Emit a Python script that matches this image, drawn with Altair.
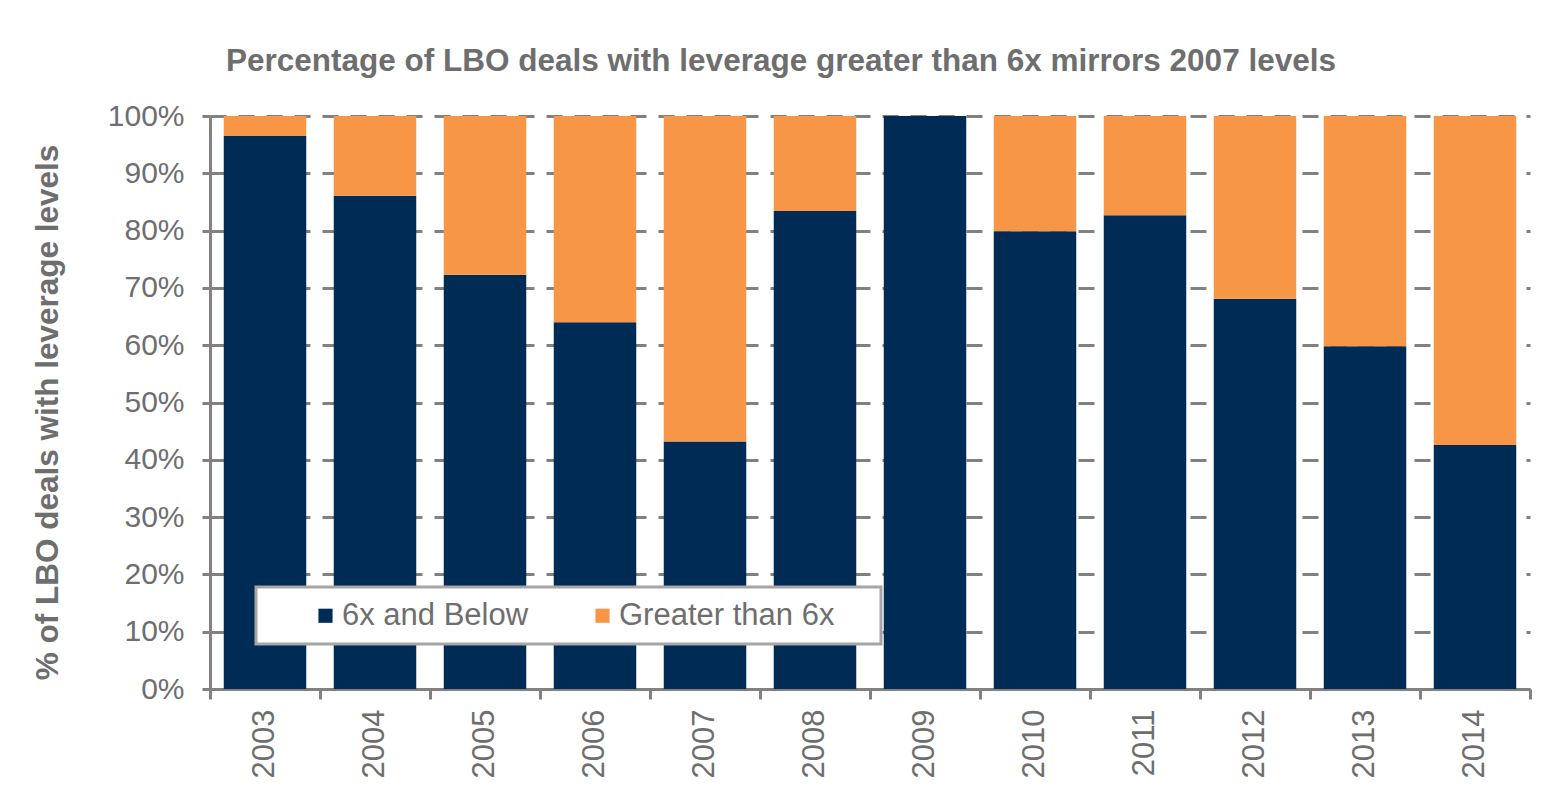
import altair as alt
import pandas as pd

years = ["2003", "2004", "2005", "2006", "2007", "2008", "2009", "2010", "2011", "2012", "2013", "2014"]
below = [96.5, 86.1, 72.3, 64.0, 43.2, 83.4, 100.0, 79.9, 82.7, 68.1, 59.8, 42.6]
greater = [3.5, 13.9, 27.7, 36.0, 56.8, 16.6, 0.0, 20.1, 17.3, 31.9, 40.2, 57.4]
series = ["6x and Below", "Greater than 6x"]
colors = ["#002B55", "#F79646"]

rows = []
for i, y in enumerate(years):
    rows.append({"year": y, "series": series[0], "value": below[i] / 100, "ord": 0})
    rows.append({"year": y, "series": series[1], "value": greater[i] / 100, "ord": 1})
df = pd.DataFrame(rows)

TXT = "#6E6E6E"
AX = "#818181"
FONT = "Liberation Sans"

chart = alt.Chart(df).mark_bar(width=alt.RelativeBandSize(0.75)).encode(
    x=alt.X("year:N", sort=years, title=None,
            scale=alt.Scale(paddingInner=0, paddingOuter=0),
            axis=alt.Axis(labelAngle=-90, labelAlign="right", labelBaseline="middle",
                          labelFontSize=31, labelColor=TXT, labelFont=FONT, labelPadding=10,
                          domainColor=AX, domainWidth=3, tickColor=AX, tickWidth=3, tickSize=10,
                          bandPosition=1, tickExtra=True, grid=False)),
    y=alt.Y("value:Q", stack="zero", title="% of LBO deals with leverage levels",
            scale=alt.Scale(domain=[0, 1], nice=False),
            axis=alt.Axis(format=".0%", values=[i / 10 for i in range(11)],
                          labelFontSize=30, labelColor=TXT, labelFont=FONT, labelPadding=18,
                          domainColor=AX, domainWidth=3, tickColor=AX, tickWidth=3, tickSize=8,
                          grid=True, gridColor=AX, gridWidth=3, gridDash=[16, 12],
                          titleFontSize=31.5, titleFont=FONT, titleFontWeight="bold", titleColor=TXT,
                          titlePadding=43, titleY=296)),
    color=alt.Color("series:N", sort=series,
                    scale=alt.Scale(domain=series, range=colors),
                    legend=alt.Legend(title=" ", titleOrient="right", titleFontSize=8,
                                      titlePadding=34, orient="none", direction="horizontal",
                                      legendX=46, legendY=471)),
    order=alt.Order("ord:Q", sort="ascending"),
).properties(
    width=1320,
    height=573,
    autosize=alt.AutoSizeParams(type="none"),
    padding={"left": 202, "top": 108, "right": 28, "bottom": 100},
    title=alt.Title("Percentage of LBO deals with leverage greater than 6x mirrors 2007 levels",
                    fontSize=31.5, font=FONT, fontWeight="bold", color=TXT,
                    anchor="middle", dx=-89, offset=24),
).configure_view(stroke=None).configure_legend(
    fillColor="white", strokeColor="#A6A6A6", strokeWidth=3,
    padding=13, symbolType="square", symbolSize=200, labelLimit=500,
    symbolStrokeWidth=0, labelFontSize=31, labelColor=TXT,
    labelFont=FONT, labelOffset=1, columnPadding=17, symbolOffset=41,
)

chart.save("out.html", embed_options={"renderer": "svg", "actions": False})
